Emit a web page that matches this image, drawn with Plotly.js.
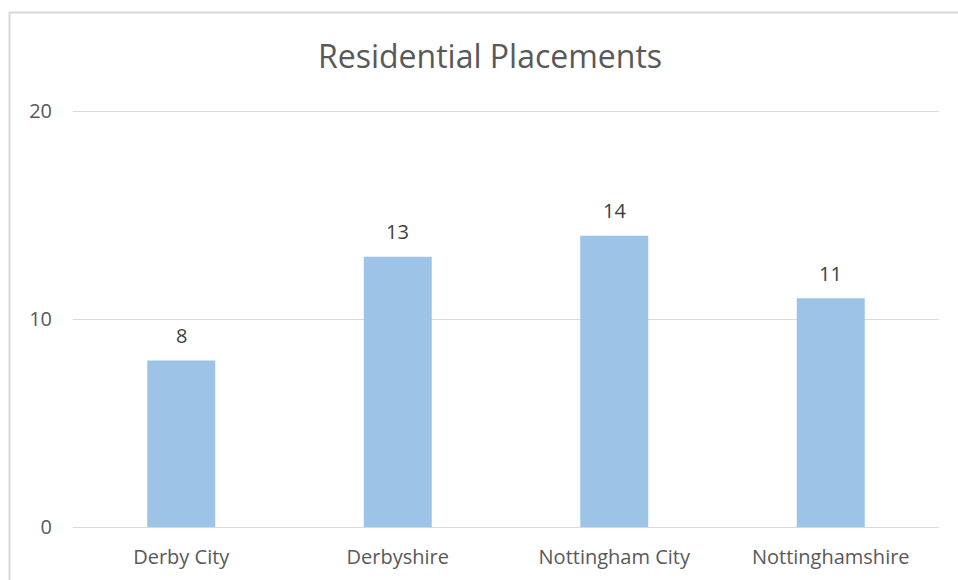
<!DOCTYPE html>
<html>
<head>
<meta charset="utf-8">
<script src="https://cdn.plot.ly/plotly-3.0.1.min.js"></script>
<style>html,body{margin:0;padding:0;background:#fff;}#chart{width:958px;height:580px;}</style>
</head>
<body>
<div id="chart"></div>
<script>
const categories = ["Derby City", "Derbyshire", "Nottingham City", "Nottinghamshire"];
const placements = [8, 13, 14, 11];
const yTicks = [0, 10, 20];

const FONT = "'Open Sans', 'Noto Sans', sans-serif";
const trace = {
  type: "bar",
  x: categories,
  y: placements,
  marker: {color: "#9DC3E6"},
  hoverinfo: "x+y"
};
const labels = categories.map((c, i) => ({
  x: c, y: placements[i], xref: "x", yref: "y",
  text: String(placements[i]), showarrow: false,
  yanchor: "middle", yshift: 25,
  font: {family: FONT, size: 20, color: "#404040"}
}));
const layout = {
  width: 958, height: 580,
  margin: {l: 73, r: 19, t: 110, b: 53},
  paper_bgcolor: "#fff", plot_bgcolor: "#fff",
  showlegend: false,
  bargap: 0.686,
  title: {text: "Residential Placements", font: {family: FONT, size: 32, color: "#595959"},
          x: 490 / 958, xanchor: "center", xref: "container", y: 1 - 57 / 580, yanchor: "middle", yref: "container"},
  xaxis: {
    type: "category", showgrid: false, zeroline: false, showline: false,
    tickfont: {family: FONT, size: 20, color: "#595959"},
    ticks: "", ticklabelstandoff: 16
  },
  yaxis: {
    range: [0, 20.05], tickvals: yTicks, showgrid: true, gridcolor: "#d9d9d9", gridwidth: 1,
    zeroline: true, zerolinecolor: "#d9d9d9", zerolinewidth: 1, showline: false,
    tickfont: {family: FONT, size: 20, color: "#595959"},
    ticks: "", ticklabelstandoff: 20
  },
  annotations: labels,
  shapes: [{
    type: "rect", xref: "paper", yref: "paper",
    x0: (9.5 - 73) / 866, x1: 1.2, y0: -0.5, y1: (527 - 12.5) / 417,
    line: {color: "#d9d9d9", width: 2}, fillcolor: "rgba(0,0,0,0)", layer: "below"
  }]
};
Plotly.newPlot("chart", [trace], layout, {displayModeBar: false, staticPlot: true});
</script>
</body>
</html>
